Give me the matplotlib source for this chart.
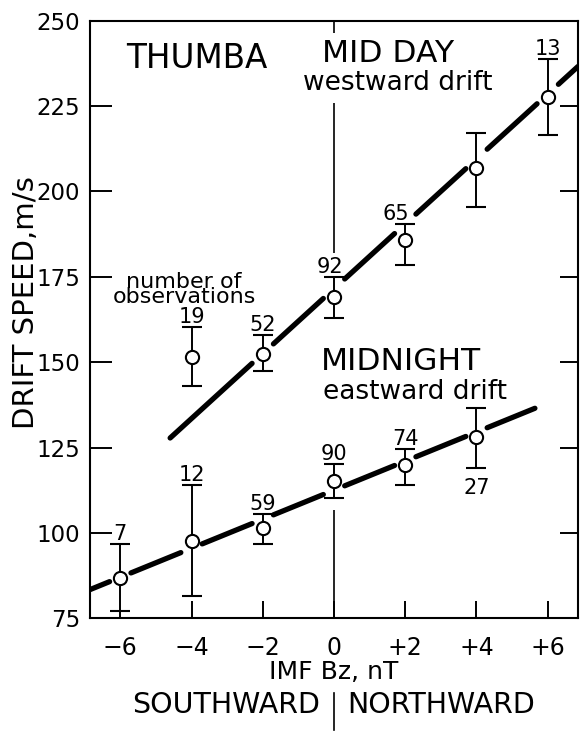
import numpy as np
import matplotlib
matplotlib.use("Agg")
import matplotlib.pyplot as plt
from matplotlib.transforms import blended_transform_factory

# ---------------- data ----------------
bz_ticks = [-6, -4, -2, 0, 2, 4, 6]
bz_tick_labels = ["\u22126", "\u22124", "\u22122", "0", "+2", "+4", "+6"]
speed_ticks = [75, 100, 125, 150, 175, 200, 225, 250]

midday_bz = [-4, -2, 0, 2, 4, 6]
midday_speed = [151.4, 152.4, 169.0, 185.8, 206.8, 227.7]
midday_hi = [160.4, 158.0, 174.9, 190.5, 217.0, 238.7]
midday_lo = [143.0, 147.5, 162.9, 178.4, 195.5, 216.5]
midday_n = ["19", "52", "92", "65", "", "13"]

midnight_bz = [-6, -4, -2, 0, 2, 4]
midnight_speed = [86.9, 97.6, 101.4, 115.2, 119.9, 128.0]
midnight_hi = [96.7, 114.0, 105.6, 120.1, 124.6, 136.7]
midnight_lo = [77.2, 81.5, 96.8, 110.1, 114.0, 118.9]
midnight_n = ["7", "12", "59", "90", "74", "27"]

midday_fit_bz = [-4.6, 6.85]
midday_fit_speed = [127.8, 236.6]
midnight_fit_bz = [-6.85, 5.64]
midnight_fit_speed = [83.4, 136.5]

zero_line_spans = [(246.4, 250.0), (182.0, 225.9), (75.0, 106.7)]

# ---------------- figure ----------------
plt.rcParams['font.family'] = ['DejaVu Sans']
fig = plt.figure(figsize=(5.8, 7.33), dpi=100)
ax = fig.add_axes([90 / 580, 1 - 618.3 / 733, 488 / 580, 597.6 / 733])
ax.set_xlim(-6.85, 6.85)
ax.set_ylim(75, 250)

for s in ax.spines.values():
    s.set_linewidth(1.5)

ax.set_xticks(bz_ticks)
ax.set_xticklabels(bz_tick_labels)
ax.set_yticks(speed_ticks)
ax.tick_params(axis='x', direction='in', length=12.5, width=1.4, pad=12.5,
               labelsize=17, top=False)
ax.tick_params(axis='y', direction='in', length=16, width=1.4, pad=7,
               labelsize=16.5, right=True)
for t in ax.yaxis.get_major_ticks():
    t.tick2line.set_markersize(13)
ax.xaxis.get_major_ticks()[0].tick1line.set_markersize(5)

ax.set_xlabel("IMF Bz, nT", fontsize=18, labelpad=0)
ax.set_ylabel("DRIFT SPEED,m/s", fontsize=21)
ax.yaxis.set_label_coords(-0.102, 0.528)

# zero reference line
for lo, hi in zero_line_spans:
    ax.vlines(0, lo, hi, color='black', lw=1.2, zorder=1)


def broken_fit(fx, fy, px, py, gap=0.3):
    x0, x1 = fx
    breaks = [x for x, y in zip(px, py)
              if x0 < x < x1 and abs(np.interp(x, fx, fy) - y) < 6]
    edges = [x0]
    for b in breaks:
        edges += [b - gap, b + gap]
    edges.append(x1)
    for a, b in zip(edges[::2], edges[1::2]):
        xs = np.array([a, b])
        ax.plot(xs, np.interp(xs, fx, fy), color='black', lw=3.8,
                solid_capstyle='round', zorder=2)


broken_fit(midday_fit_bz, midday_fit_speed, midday_bz, midday_speed)
broken_fit(midnight_fit_bz, midnight_fit_speed, midnight_bz, midnight_speed)


def points(xs, ys, his, los):
    ys = np.array(ys); his = np.array(his); los = np.array(los)
    ax.errorbar(xs, ys, yerr=[ys - los, his - ys], fmt='o', ms=9.5,
                mfc='white', mec='black', mew=1.5, ecolor='black',
                elinewidth=1.4, capsize=7, capthick=1.4, zorder=4)


points(midday_bz, midday_speed, midday_hi, midday_lo)
points(midnight_bz, midnight_speed, midnight_hi, midnight_lo)

midday_label_dx = [0, 0, -3, -7, 0, 0]
for x, hi, lab, dx in zip(midday_bz, midday_hi, midday_n, midday_label_dx):
    if lab:
        ax.annotate(lab, (x, hi), xytext=(dx, 0), textcoords='offset points',
                    ha='center', va='bottom', fontsize=15)
midnight_label_below = [False, False, False, False, False, True]
for x, hi, lo, lab, below in zip(midnight_bz, midnight_hi, midnight_lo,
                                 midnight_n, midnight_label_below):
    if below:
        ax.annotate(lab, (x, lo), xytext=(0, -7), textcoords='offset points',
                    ha='center', va='top', fontsize=15)
    else:
        ax.annotate(lab, (x, hi), xytext=(0, 0), textcoords='offset points',
                    ha='center', va='bottom', fontsize=15)

# titles / annotations
ax.text(-3.84, 236.1, "THUMBA", fontsize=23.5, ha='center', va='baseline')
ax.text(1.52, 237.9, "MID DAY", fontsize=22.5, ha='center', va='baseline')
ax.text(1.80, 229.6, "westward drift", fontsize=19, ha='center', va='baseline')
ax.text(1.87, 147.6, "MIDNIGHT", fontsize=22.5, ha='center', va='baseline')
ax.text(2.27, 139.1, "eastward drift", fontsize=19, ha='center', va='baseline')
ax.text(-4.21, 166.1, "number of\nobservations", fontsize=16, ha='center',
        va='bottom', linespacing=0.72)

trans = blended_transform_factory(ax.transData, fig.transFigure)
ax.text(-0.4, 1 - 713 / 733, "SOUTHWARD", transform=trans, fontsize=20.5,
        ha='right', va='baseline')
ax.text(0.38, 1 - 713 / 733, "NORTHWARD", transform=trans, fontsize=20.5,
        ha='left', va='baseline')
ax.plot([0, 0], [1 - 730 / 733, 1 - 693 / 733], transform=trans,
        clip_on=False, color='black', lw=1.2)

fig.savefig("out.png", dpi=100)
